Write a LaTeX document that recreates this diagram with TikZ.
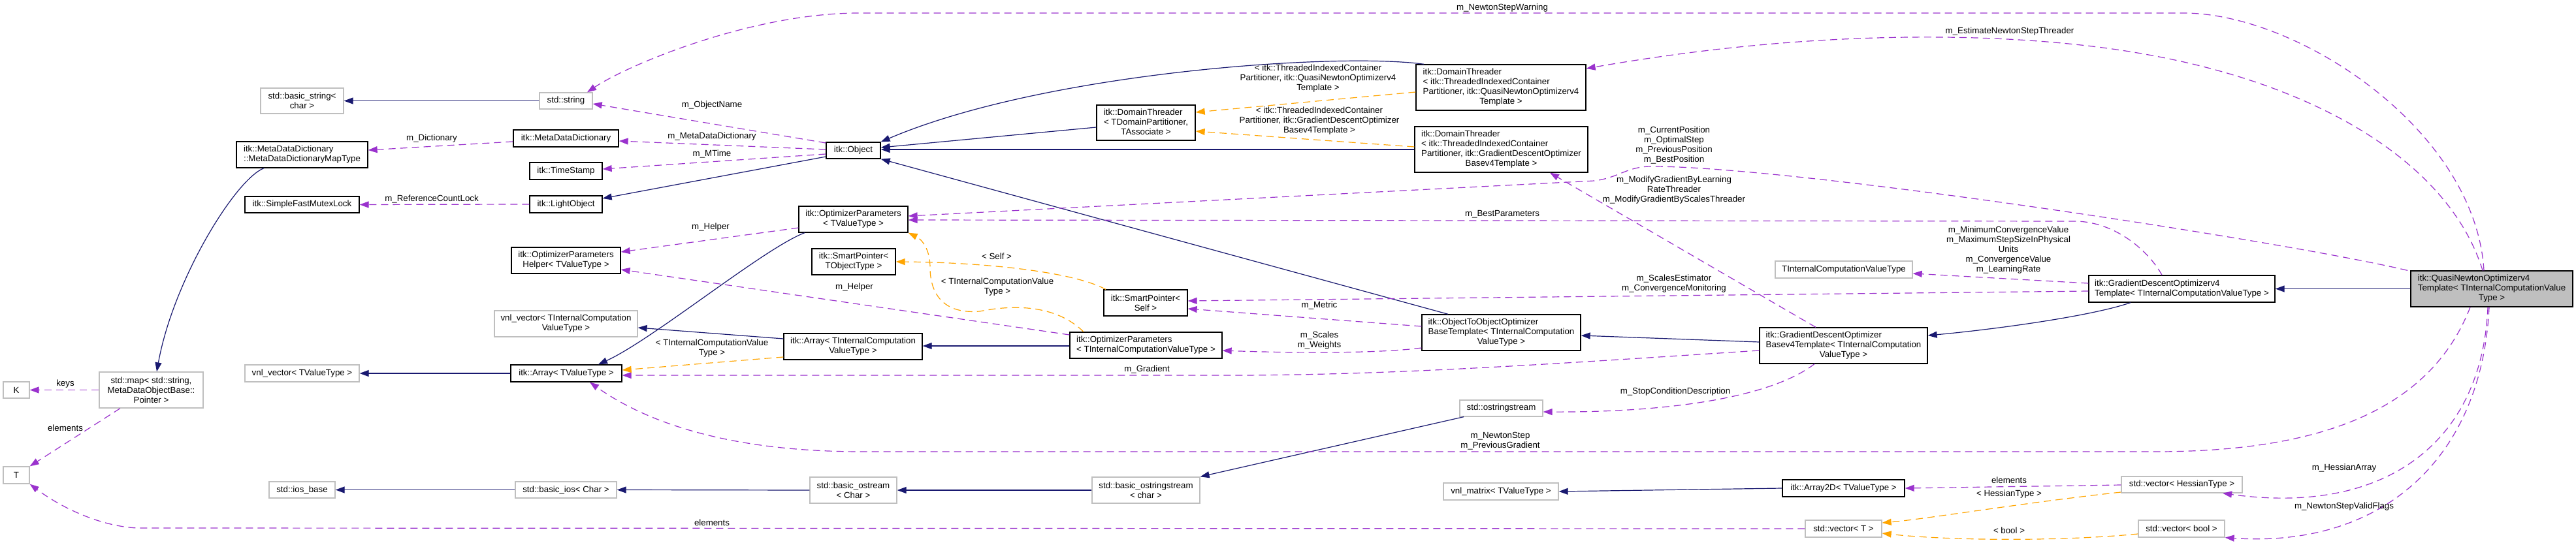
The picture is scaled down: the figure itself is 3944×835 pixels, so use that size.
\documentclass[tikz,border=0pt]{standalone}
\usepackage{fontspec}
\setmainfont{Liberation Sans}
\usetikzlibrary{arrows.meta,calc}
\definecolor{eblue}{HTML}{191970}
\definecolor{epurple}{HTML}{9A32CD}
\definecolor{eorange}{HTML}{FFA500}
\definecolor{gborder}{HTML}{BFBFBF}
\newcommand{\fs}{\fontsize{13.3}{15}\selectfont}
\newcommand{\Lbox}[1]{\begin{tabular}{@{}l@{}}#1\end{tabular}}
\newcommand{\Cl}[1]{\multicolumn{1}{@{}c@{}}{#1}}
\begin{document}
\begin{tikzpicture}[x=1pt,y=-1pt,
  box/.style={draw=black,line width=1.3pt,fill=white,inner sep=0pt,font=\fs,align=center},
  ext/.style={box,draw=gborder},
  mainbox/.style={box,fill=gborder},
  wh/.style 2 args={minimum width=#1pt,minimum height=#2pt},
  inh/.style={draw=eblue,line width=1.2pt,-{Triangle[length=14pt,width=10pt]}},
  mem/.style={draw=epurple,line width=1.2pt,dash pattern=on 11pt off 7pt,-{Triangle[length=14pt,width=10pt]}},
  tpl/.style={mem,draw=eorange},
  lbl/.style={font=\fs,align=center,inner sep=0pt}]
\fill[white] (0,0) rectangle (3944,835);
\useasboundingbox (0,0) rectangle (3944,835);

% ---------- nodes ----------
\node[ext,wh={127}{39}] (bstr) at (462.5,154.5) {std::basic\_string<\\char >};
\node[ext,wh={81}{25}] (str) at (866.5,154.5) {std::string};
\node[box,wh={201}{40}] (mapt) at (462.5,237) {\Lbox{itk::MetaDataDictionary\\\Cl{::MetaDataDictionaryMapType}}};
\node[box,wh={161}{26}] (mdd) at (866.5,212) {itk::MetaDataDictionary};
\node[box,wh={111}{26}] (ts) at (866.5,262) {itk::TimeStamp};
\node[box,wh={175}{25}] (sfml) at (462.5,313.5) {itk::SimpleFastMutexLock};
\node[box,wh={111}{26}] (lo) at (866.5,313) {itk::LightObject};
\node[box,wh={83}{25}] (obj) at (1306.5,230.5) {itk::Object};
\node[box,wh={167}{40}] (opv) at (1306.5,336) {\Lbox{itk::OptimizerParameters\\\Cl{< TValueType >}}};
\node[box,wh={167}{40}] (oph) at (866.5,399) {\Lbox{itk::OptimizerParameters\\\Cl{Helper< TValueType >}}};
\node[box,wh={128}{40}] (spt) at (1307,401) {itk::SmartPointer<\\TObjectType >};
\node[ext,wh={159}{55}] (map) at (231.5,597.5) {std::map< std::string,\\MetaDataObjectBase::\\Pointer >};
\node[ext,wh={40}{25}] (K) at (25,597.5) {K};
\node[ext,wh={40}{26}] (T) at (25,728) {T};
\node[ext,wh={175}{26}] (vnlv) at (462.5,572) {vnl\_vector< TValueType >};
\node[ext,wh={101}{25}] (iosb) at (462.5,750.5) {std::ios\_base};
\node[ext,wh={219}{40}] (vnlvi) at (866.5,496) {vnl\_vector< TInternalComputation\\ValueType >};
\node[box,wh={170}{26}] (arr) at (867,572) {itk::Array< TValueType >};
\node[box,wh={212}{40}] (arri) at (1306,531) {itk::Array< TInternalComputation\\ValueType >};
\node[ext,wh={155}{25}] (bios) at (866.5,750.5) {std::basic\_ios< Char >};
\node[ext,wh={133}{40}] (bostr) at (1306.5,751) {std::basic\_ostream\\< Char >};
\node[box,wh={151}{54}] (dtp) at (1754.5,188) {\Lbox{itk::DomainThreader\\< TDomainPartitioner,\\\Cl{TAssociate >}}};
\node[box,wh={128}{40}] (sps) at (1754,464) {itk::SmartPointer<\\Self >};
\node[box,wh={233}{40}] (opi) at (1754.5,529) {\Lbox{itk::OptimizerParameters\\< TInternalComputationValueType >}};
\node[ext,wh={165}{40}] (bostrs) at (1754.5,751) {std::basic\_ostringstream\\< char >};
\node[box,wh={260}{70}] (dqn) at (2298,134) {\Lbox{itk::DomainThreader\\< itk::ThreadedIndexedContainer\\Partitioner, itk::QuasiNewtonOptimizerv4\\\Cl{Template >}}};
\node[box,wh={265}{70}] (dgd) at (2298.5,229) {\Lbox{itk::DomainThreader\\< itk::ThreadedIndexedContainer\\Partitioner, itk::GradientDescentOptimizer\\\Cl{Basev4Template >}}};
\node[box,wh={243}{55}] (o2o) at (2298.5,509.5) {\Lbox{itk::ObjectToObjectOptimizer\\BaseTemplate< TInternalComputation\\\Cl{ValueType >}}};
\node[ext,wh={127}{25}] (ostr) at (2298.5,625.5) {std::ostringstream};
\node[ext,wh={176}{26}] (vnlm) at (2298,753) {vnl\_matrix< TValueType >};
\node[ext,wh={210}{26}] (ticvt) at (2823,413) {TInternalComputationValueType};
\node[box,wh={257}{55}] (gdb) at (2822.5,529.5) {\Lbox{itk::GradientDescentOptimizer\\Basev4Template< TInternalComputation\\\Cl{ValueType >}}};
\node[box,wh={187}{26}] (a2d) at (2822.5,748) {itk::Array2D< TValueType >};
\node[ext,wh={117}{26}] (vecT) at (2822.5,810) {std::vector< T >};
\node[box,wh={285}{41}] (gdv4) at (3340.5,442.5) {\Lbox{itk::GradientDescentOptimizerv4\\\Cl{Template< TInternalComputationValueType >}}};
\node[ext,wh={185}{25}] (vech) at (3340.5,742.5) {std::vector< HessianType >};
\node[ext,wh={132}{26}] (vecb) at (3340,810) {std::vector< bool >};
\node[mainbox,wh={248}{55}] (qn) at (3815,442.5) {\Lbox{itk::QuasiNewtonOptimizerv4\\Template< TInternalComputationValue\\\Cl{Type >}}};

% ---------- inheritance (solid blue) ----------
\draw[inh] (str.west) -- (bstr.east);
\draw[inh] (mapt.south -| 404,0) .. controls (360,275) and (265,430) .. (map.north -| 240,0);
\draw[inh] (obj.west |- 0,240) -- (lo.east |- 0,304);
\draw[inh] (arr.west) -- (vnlv.east);
\draw[inh] (opv.south -| 1232,0) .. controls (1170,380) and (1000,520) .. (arr.north -| 916,0);
\draw[inh] (arri.west |- 0,519) -- (vnlvi.east |- 0,502);
\draw[inh] (opi.west |- 0,530) -- (arri.east |- 0,530);
\draw[inh] (bios.west) -- (iosb.east);
\draw[inh] (bostr.west) -- (bios.east);
\draw[inh] (bostrs.west) -- (bostr.east);
\draw[inh] (dtp.west |- 0,195) -- (obj.east |- 0,226);
\draw[inh] (dqn.north -| 2180,0) .. controls (2050,80) and (1600,110) .. (obj.north east);
\draw[inh] (dgd.west |- 0,229) -- (obj.east |- 0,229);
\draw[inh] (o2o.north -| 2217,0) -- (obj.south east);
\draw[inh] (gdb.west |- 0,524) -- (o2o.east |- 0,514);
\draw[inh] (gdv4.south -| 3262,0) .. controls (3200,485) and (3050,505) .. (gdb.east |- 0,514);
\draw[inh] (qn.west) -- (gdv4.east);
\draw[inh] (ostr.south -| 2241,0) -- (bostrs.north east);
\draw[inh] (a2d.west) -- (vnlm.east);

% ---------- members (dashed purple) ----------
\draw[mem] (qn.north -| 3803,0) .. controls (3790,200) and (3520,20) .. (3343,20) -- (1315,20) .. controls (1150,20) and (960,100) .. (str.north -| 899,0);
\draw[mem] (qn.north -| 3801,0) .. controls (3750,250) and (3550,130) .. (3284,83) .. controls (3100,50) and (2800,40) .. (dqn.east |- 0,105);
\draw[mem] (qn.north -| 3686,0) .. controls (3500,370) and (2750,255) .. (2529,255) .. controls (2490,255) and (2480,272) .. (2441,277) -- (opv.east |- 0,331);
\draw[mem] (gdv4.north -| 3310,0) .. controls (3290,385) and (3240,341) .. (3180,339) -- (opv.east |- 0,337);
\draw[mem] (gdb.north -| 2780,0) -- (dgd.south -| 2373,0);
\draw[mem] (gdv4.west |- 0,434) -- (ticvt.east |- 0,419);
\draw[mem] (gdv4.west |- 0,446) -- (sps.east |- 0,461);
\draw[mem] (o2o.west |- 0,500) -- (sps.east |- 0,473);
\draw[mem] (o2o.west |- 0,533) .. controls (2100,543) and (1950,540) .. (opi.east |- 0,537);
\draw[mem] (gdb.west |- 0,537) .. controls (2400,556) and (2150,574) .. (1900,575) -- (arr.east |- 0,575);
\draw[mem] (qn.south -| 3782,0) .. controls (3720,630) and (3550,692) .. (3300,692) -- (1320,692) .. controls (1100,692) and (980,640) .. (arr.south -| 903,0);
\draw[mem] (gdb.south -| 2778,0) .. controls (2710,610) and (2550,632) .. (ostr.east |- 0,631);
\draw[mem] (qn.south -| 3809,0) .. controls (3800,680) and (3650,790) .. (vech.south -| 3403,0);
\draw[mem] (qn.south -| 3811,0) .. controls (3800,700) and (3650,840) .. (vecb.south east);
\draw[mem] (vech.west |- 0,743) -- (a2d.east |- 0,748);
\draw[mem] (vecT.west) -- (210,809) .. controls (150,806) and (90,775) .. (T.south east);
\draw[mem] (map.west) -- (K.east);
\draw[mem] (map.south -| 184,0) -- (T.north east);
\draw[mem] (obj.west |- 0,219) -- (str.east |- 0,159);
\draw[mem] (obj.west |- 0,229) -- (mdd.east |- 0,216);
\draw[mem] (obj.west |- 0,236) -- (ts.east |- 0,259);
\draw[mem] (lo.west) -- (sfml.east);
\draw[mem] (mdd.west |- 0,217) -- (mapt.east |- 0,230);
\draw[mem] (opv.west |- 0,349) -- (oph.east |- 0,386);
\draw[mem] (opi.west |- 0,513) -- (oph.east |- 0,413);

% ---------- template instances (dashed orange) ----------
\draw[tpl] (dqn.west |- 0,141) -- (dtp.east |- 0,172);
\draw[tpl] (dgd.west |- 0,225) -- (dtp.east |- 0,201);
\draw[tpl] (sps.north -| 1693,0) .. controls (1640,415) and (1500,402) .. (spt.east |- 0,401);
\draw[tpl] (opi.north -| 1659,0) .. controls (1620,470) and (1560,465) .. (1500,477) .. controls (1440,482) and (1424,445) .. (1424,410) .. controls (1424,380) and (1410,366) .. (opv.south east);
\draw[tpl] (arri.west |- 0,547) -- (arr.east |- 0,567);
\draw[tpl] (vech.west |- 0,754) .. controls (3100,770) and (2950,795) .. (vecT.east |- 0,801);
\draw[tpl] (vecb.west |- 0,818) .. controls (3150,830) and (2980,828) .. (vecT.east |- 0,817);

% ---------- labels ----------
\node[lbl] (l1) at (2300,12) {m\_NewtonStepWarning};
\node[lbl] (l2) at (3077,48) {m\_EstimateNewtonStepThreader};
\node[lbl] (l3) at (2563,223) {m\_CurrentPosition\\m\_OptimalStep\\m\_PreviousPosition\\m\_BestPosition};
\node[lbl] (l4) at (2563,291.5) {m\_ModifyGradientByLearning\\RateThreader\\m\_ModifyGradientByScalesThreader};
\node[lbl] (l5) at (2300,328) {m\_BestParameters};
\node[lbl] (l6) at (3075,383.5) {m\_MinimumConvergenceValue\\m\_MaximumStepSizeInPhysical\\Units\\m\_ConvergenceValue\\m\_LearningRate};
\node[lbl] (l7) at (2563,435) {m\_ScalesEstimator\\m\_ConvergenceMonitoring};
\node[lbl] (l8) at (2020,468) {m\_Metric};
\node[lbl] (l9) at (2020,521.5) {m\_Scales\\m\_Weights};
\node[lbl] (l10) at (1756,566) {m\_Gradient};
\node[lbl] (l11) at (2297,675.5) {m\_NewtonStep\\m\_PreviousGradient};
\node[lbl] (l12) at (2565,600) {m\_StopConditionDescription};
\node[lbl] (l13) at (3589,717) {m\_HessianArray};
\node[lbl] (l14) at (3589,776) {m\_NewtonStepValidFlags};
\node[lbl] (l15) at (3076,736) {elements};
\node[lbl] (l16) at (3076,757) {< HessianType >};
\node[lbl] (l17) at (3076,813) {< bool >};
\node[lbl] (l18) at (1090,801) {elements};
\node[lbl] (l19) at (100,588) {keys};
\node[lbl] (l20) at (100,656) {elements};
\node[lbl] (l21) at (1090,161) {m\_ObjectName};
\node[lbl] (l22) at (1090,209) {m\_MetaDataDictionary};
\node[lbl] (l23) at (1090,236) {m\_MTime};
\node[lbl] (l24) at (661,305) {m\_ReferenceCountLock};
\node[lbl] (l25) at (661,212) {m\_Dictionary};
\node[lbl] (l26) at (1088,348) {m\_Helper};
\node[lbl] (l27) at (1308,440) {m\_Helper};
\node[lbl] (l28) at (2018,120) {< itk::ThreadedIndexedContainer\\Partitioner, itk::QuasiNewtonOptimizerv4\\Template >};
\node[lbl] (l29) at (2020,185) {< itk::ThreadedIndexedContainer\\Partitioner, itk::GradientDescentOptimizer\\Basev4Template >};
\node[lbl] (l30) at (1526,393) {< Self >};
\node[lbl] (l31) at (1527,439.5) {< TInternalComputationValue\\Type >};
\node[lbl] (l32) at (1090,533.5) {< TInternalComputationValue\\Type >};
\end{tikzpicture}
\end{document}
